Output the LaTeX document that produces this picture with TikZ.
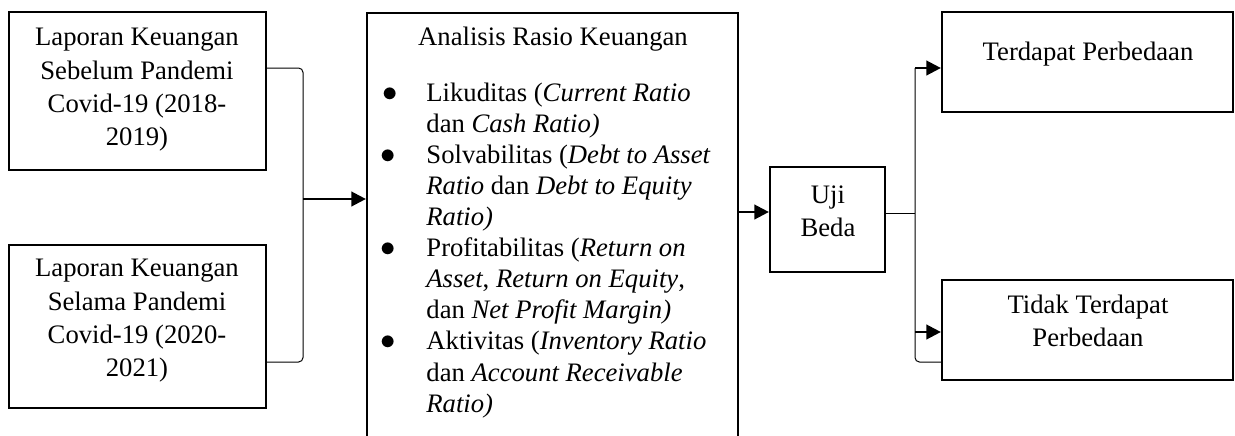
\documentclass[tikz,border=0pt]{standalone}
\usepackage{graphicx}
\usepackage{fontspec}
\setmainfont{Liberation Serif}
\usetikzlibrary{arrows.meta,fit}
\newcommand\blt{\scalebox{1.15}{$\bullet$}}
\begin{document}
\begin{tikzpicture}[x=0.45pt,y=-0.45pt,
  box/.style={draw,line width=1pt,inner sep=0pt},
  txt/.style={align=center,font=\fontsize{12}{15}\selectfont,inner sep=0pt},
  thinline/.style={line width=0.45pt},
  arr/.style={line width=1.1pt,-{Triangle[length=6.5pt,width=6.5pt]}}]
\useasboundingbox (0,0) rectangle (1235,435);
\clip (0,0) rectangle (1235,435);
% boxes
\node[box,fit={(9,12) (266,170)}] (b1) {};
\node[box,fit={(9,245) (266,408)}] (b2) {};
\node[box,fit={(367,13) (738,480)}] (main) {};
\node[box,fit={(770,167) (885,272)}] (uji) {};
\node[box,fit={(942,12) (1233,112)}] (ter) {};
\node[box,fit={(942,280) (1233,380)}] (tid) {};
% texts
\node[txt] (t1) at (137,90) {Laporan Keuangan\\Sebelum Pandemi\\Covid-19 (2018-\\2019)};
\node[txt] (t2) at (137,321) {Laporan Keuangan\\Selama Pandemi\\Covid-19 (2020-\\2021)};
\node[txt,anchor=base] (title) at (553,45) {Analisis Rasio Keuangan};
\node[inner sep=0pt,anchor=base west,font=\fontsize{12}{14}\selectfont] (list) at (378,101) {%
\begin{tabular}[t]{@{}p{21.6pt}@{}l@{}}
\hspace{2pt}\blt & Likuditas (\textit{Current Ratio}\\
 & dan \textit{Cash Ratio)}\\
\hspace{1pt}\blt & Solvabilitas (\textit{Debt to Asset}\\
 & \textit{Ratio} dan \textit{Debt to Equity}\\
 & \textit{Ratio)}\\
\hspace{1pt}\blt & Profitabilitas (\textit{Return on}\\
 & \textit{Asset}, \textit{Return on Equity},\\
 & dan \textit{Net Profit Margin)}\\
\hspace{1pt}\blt & Aktivitas (\textit{Inventory Ratio}\\
 & dan \textit{Account Receivable}\\
 & \textit{Ratio)}
\end{tabular}};
\node[txt] (tu) at (828,211) {Uji\\Beda};
\node[txt,anchor=base] (tt) at (1088,60) {Terdapat Perbedaan};
\node[txt] (ttd) at (1088,321) {Tidak Terdapat\\Perbedaan};
% connectors
\coordinate (j1) at (303,68);
\coordinate (j2) at (303,362);
\coordinate (j3) at (303,199);
\coordinate (k0) at (750,212);
\coordinate (k1) at (915,213);
\coordinate (k2) at (915,68);
\coordinate (k3) at (915,362);
\coordinate (k4) at (915,332);
\draw[thinline,rounded corners=2pt] (j1 -| b1.east) -- (j1) -- (j2) -- (j2 -| b2.east);
\draw[arr] (j3) -- (j3 -| main.west);
\draw[arr] (k0 -| main.east) -- (k0 -| uji.west);
\draw[thinline] (k1 -| uji.east) -- (k1);
\draw[thinline,rounded corners=2pt] (k2) -- (k3) -- (k3 -| tid.west);
\draw[arr] (k2) -- (k2 -| ter.west);
\draw[arr] (k4) -- (k4 -| tid.west);
\end{tikzpicture}
\end{document}
